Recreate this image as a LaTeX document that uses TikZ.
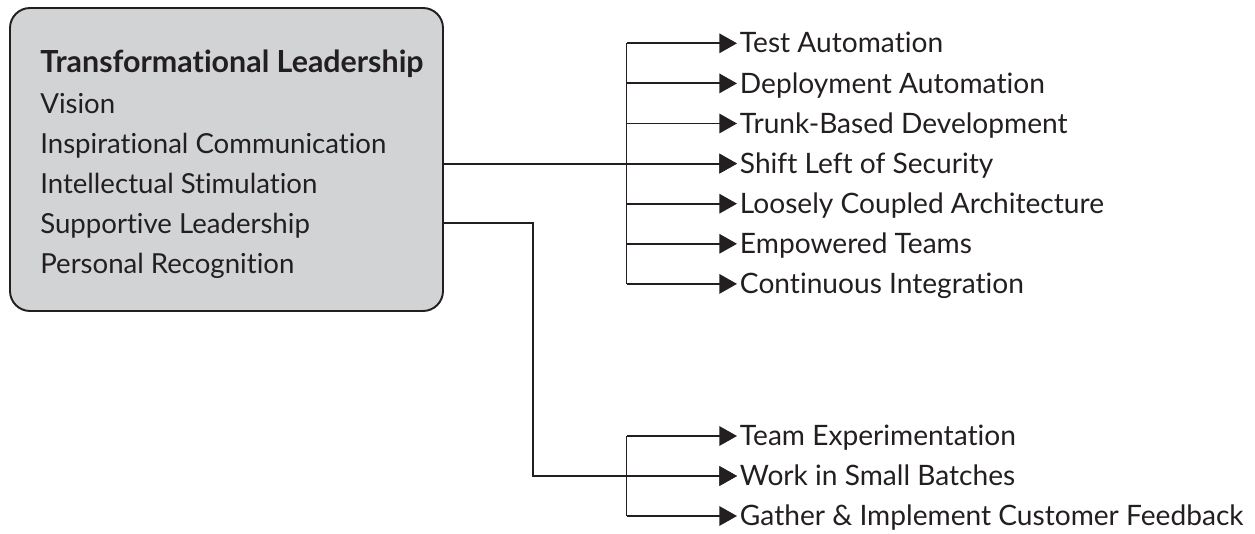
\documentclass[tikz,border=0pt]{standalone}
\usepackage{fontspec}
\setmainfont{Lato}[Ligatures=NoCommon]
\usetikzlibrary{arrows.meta}

\definecolor{boxgray}{HTML}{D1D3D4}
\definecolor{ink}{HTML}{231F20}

\begin{document}
\begin{tikzpicture}[
  trait/.style={anchor=base west, inner sep=0pt, text height=14pt, text depth=3pt, font=\fontsize{15.7}{18}\selectfont, text=ink},
  goal/.style={anchor=west, inner sep=1.5pt, text height=14pt, text depth=3pt, font=\fontsize{16}{18}\selectfont, text=ink},
  link/.style={draw=ink, line width=1.1pt},
  tip/.style={-{Triangle[length=10pt,width=11pt]}}
]
\useasboundingbox (0,0) rectangle (25.1,-10.68);

% leadership box
\node[draw=ink, line width=1.1pt, fill=boxgray, rounded corners=0.4cm, minimum width=8.66cm, minimum height=6.06cm, inner sep=0pt] (lead) at (4.53,-3.19) {};
\node[trait, font=\fontsize{17.3}{20}\selectfont\bfseries] (tl) at (0.8,-1.46) {Transformational Leadership};
\node[trait] (vis) at (0.8,-2.26) {Vision};
\node[trait] (ins) at (0.8,-3.06) {Inspirational Communication};
\node[trait] (int) at (0.8,-3.86) {Intellectual Stimulation};
\node[trait] (sup) at (0.8,-4.66) {Supportive Leadership};
\node[trait] (rec) at (0.8,-5.46) {Personal Recognition};

% capabilities
\node[goal] (ta) at (14.74,-0.866) {Test Automation};
\node[goal] (da) at (14.74,-1.668) {Deployment Automation};
\node[goal] (tb) at (14.74,-2.47) {Trunk-Based Development};
\node[goal] (sl) at (14.74,-3.272) {Shift Left of Security};
\node[goal] (lc) at (14.74,-4.074) {Loosely Coupled Architecture};
\node[goal] (et) at (14.74,-4.876) {Empowered Teams};
\node[goal] (ci) at (14.74,-5.678) {Continuous Integration};

\node[goal] (te) at (14.74,-8.72) {Team Experimentation};
\node[goal] (wb) at (14.74,-9.52) {Work in Small Batches};
\node[goal] (gf) at (14.74,-10.32) {Gather \& Implement Customer Feedback};

\coordinate (tr) at (12.53,0);
\coordinate (bend) at (10.66,0);

% trunks
\draw[link] (tr |- ta.west) -- (tr |- ci.west);
\draw[link] (tr |- te.west) -- (tr |- gf.west);
\foreach \n in {ta,da,tb,sl,lc,et,ci,te,wb,gf}
  \draw[link,tip] (tr |- \n.west) -- (\n.west);

% from the box
\draw[link,tip] (lead.east |- sl.west) -- (sl.west);
\draw[link,tip] (lead.east |- sup.west) -| (bend |- wb.west) -- (wb.west);
\end{tikzpicture}
\end{document}
